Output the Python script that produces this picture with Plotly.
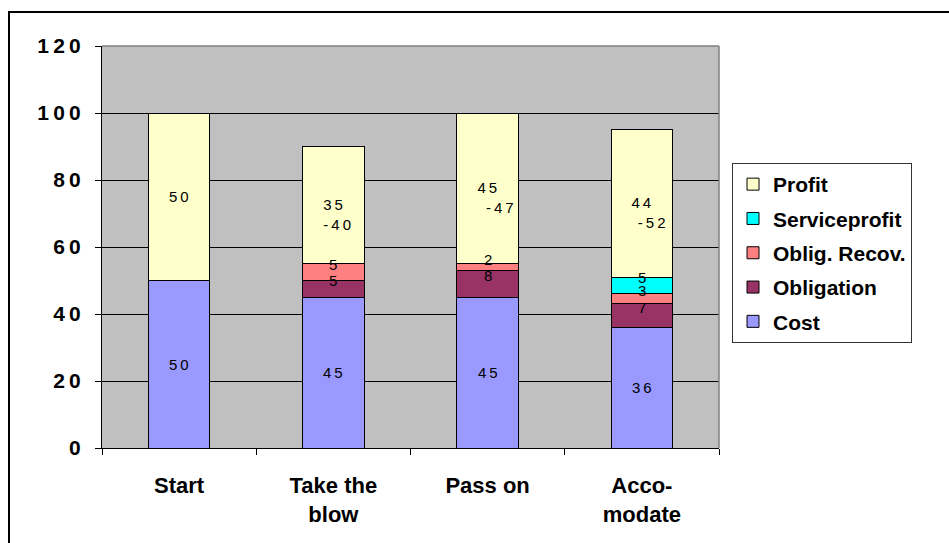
import plotly.graph_objects as go

# ---- data ----
categories = ["Start", "Take the<br>blow", "Pass on", "Acco-<br>modate"]
cost = [50, 45, 45, 36]
obligation = [None, 5, 8, 7]
oblig_recov = [None, 5, 2, 3]
serviceprofit = [None, None, None, 5]
profit = [50, 35, 45, 44]
profit_change = [None, -40, -47, -52]
y_ticks = [0, 20, 40, 60, 80, 100, 120]

series = [
    ("Cost", cost, "#9999FF"),
    ("Obligation", obligation, "#993366"),
    ("Oblig. Recov.", oblig_recov, "#FF8080"),
    ("Serviceprofit", serviceprofit, "#00FFFF"),
    ("Profit", profit, "#FFFFCC"),
]

FONT = "Liberation Sans, Arial, sans-serif"
THIN = "\u2009"
NBSP = "\u00a0"


def spaced(s):
    return THIN.join(list(str(s)))


fig = go.Figure()
for i, (name, vals, color) in enumerate(series):
    fig.add_trace(go.Bar(
        x=categories, y=vals, name=name, width=0.4,
        marker=dict(color=color, line=dict(color="black", width=1)),
        legendgroup=name, legendrank=len(series) - i,
        hoverinfo="skip",
    ))

# data labels at segment centres
annotations = []
base = [0] * len(categories)
indent = [0, 2, 6, 5]
middle_series = ("Obligation", "Oblig. Recov.", "Serviceprofit")
for name, vals, color in series:
    for j, v in enumerate(vals):
        if v is None:
            continue
        centre = base[j] + v / 2
        if name == "Profit" and profit_change[j] is not None:
            text = spaced(v) + "<br>" + NBSP * indent[j] + spaced(profit_change[j])
            annotations.append(dict(x=categories[j], y=centre, xref="x", yref="y",
                                    text=text, showarrow=False, yanchor="top",
                                    yshift=11, align="center",
                                    font=dict(family=FONT, size=15, color="black")))
        else:
            annotations.append(dict(x=categories[j], y=centre, xref="x", yref="y",
                                    text=spaced(v), showarrow=False,
                                    yshift=8 if name in middle_series else 0,
                                    font=dict(family=FONT, size=15, color="black")))
        base[j] += v

L, R, T, B = 102, 230, 46, 95
pw, ph = 949 - L - R, 543 - T - B

shapes = [
    # outer chart frame
    dict(type="rect", xref="paper", yref="paper",
         x0=(9 - L) / pw, x1=(975 - L) / pw,
         y0=(543 - B - 570) / ph, y1=(543 - B - 12) / ph,
         line=dict(color="black", width=2), layer="above"),
    # grey plot-area border top & right
    dict(type="line", xref="paper", yref="paper", x0=0, x1=1, y0=1, y1=1,
         line=dict(color="#808080", width=1.5), layer="above"),
    dict(type="line", xref="paper", yref="paper", x0=1, x1=1, y0=0, y1=1,
         line=dict(color="#808080", width=1.5), layer="above"),
]

fig.update_layout(
    width=949, height=543,
    margin=dict(l=L, r=R, t=T, b=B, pad=0),
    barmode="stack",
    paper_bgcolor="white",
    plot_bgcolor="#C0C0C0",
    font=dict(family=FONT, size=20, color="black"),
    showlegend=True,
    legend=dict(
        x=(732 - L) / pw, y=(543 - B - 163) / ph, xanchor="left", yanchor="top",
        bgcolor="white", bordercolor="#333333", borderwidth=1,
        font=dict(family=FONT, size=21, color="black", weight="bold"),
        traceorder="reversed+grouped", tracegroupgap=4,
        itemwidth=30,
    ),
    xaxis=dict(
        type="category", showgrid=False, showline=True, linecolor="black", linewidth=1,
        ticks="outside", tickson="boundaries", ticklen=6, tickcolor="black",
        tickfont=dict(family=FONT, size=22, color="black", weight="bold"),
        ticklabelstandoff=18, fixedrange=True,
    ),
    yaxis=dict(
        range=[0, 120], tickvals=y_ticks, ticktext=[THIN.join(str(t)) for t in y_ticks],
        showgrid=True, gridcolor="black", gridwidth=1,
        showline=True, linecolor="black", linewidth=1, zeroline=False,
        ticks="outside", ticklen=6, tickcolor="black",
        tickfont=dict(family=FONT, size=21, color="black", weight="bold"),
        ticklabelstandoff=10, fixedrange=True,
    ),
    annotations=annotations,
    shapes=shapes,
)

fig.write_html("out.html")
